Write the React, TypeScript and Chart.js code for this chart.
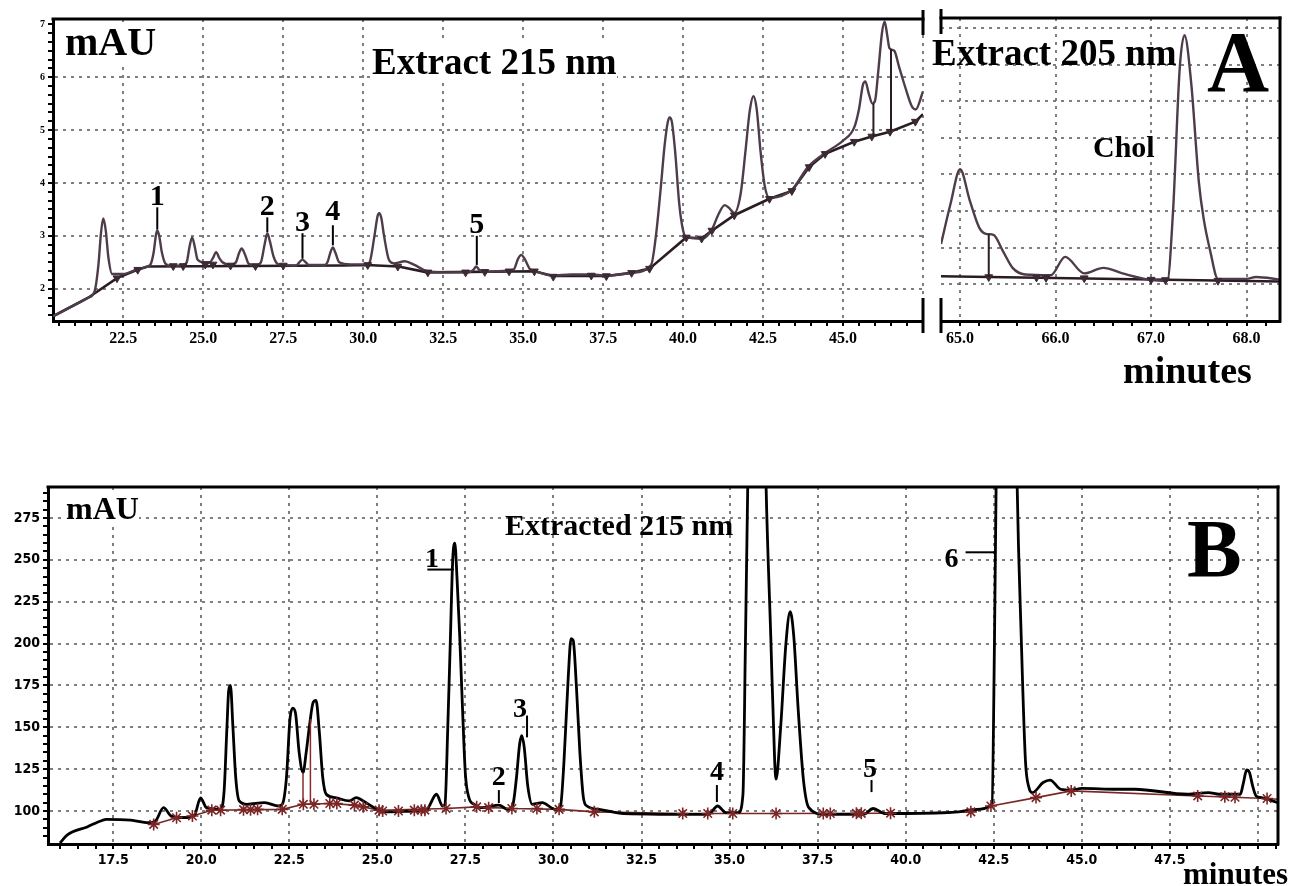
import React, { useEffect, useRef } from "react";
import { Chart, registerables } from "chart.js";

Chart.register(...registerables);

// ---------- Panel A, left part: extract at 215 nm (minutes, mAU) ----------
const A215_SIGNAL: [number, number][] = [
  [20.3, 1.48], [21.0, 1.7], [21.4, 1.83], [21.6, 1.95], [21.72, 2.45], [21.8, 3.05], [21.87, 3.33],
  [21.95, 3.1], [22.03, 2.6], [22.15, 2.28], [22.5, 2.28], [22.9, 2.36], [23.25, 2.42], [23.35, 2.46],
  [23.45, 2.7], [23.52, 3.02], [23.56, 3.1], [23.62, 3.0], [23.7, 2.7], [23.82, 2.47], [24.0, 2.43],
  [24.4, 2.46], [24.48, 2.5], [24.57, 2.8], [24.65, 2.97], [24.73, 2.8], [24.82, 2.55], [25.0, 2.5],
  [25.2, 2.5], [25.3, 2.58], [25.4, 2.69], [25.5, 2.58], [25.6, 2.5], [25.85, 2.45], [26.02, 2.5],
  [26.12, 2.68], [26.2, 2.76], [26.3, 2.65], [26.42, 2.47], [26.65, 2.44], [26.8, 2.5], [26.92, 2.85],
  [27.0, 3.05], [27.08, 2.9], [27.2, 2.6], [27.35, 2.46], [27.9, 2.44], [28.0, 2.5], [28.1, 2.55],
  [28.2, 2.5], [28.3, 2.45], [28.8, 2.45], [28.88, 2.5], [28.98, 2.7], [29.05, 2.78], [29.13, 2.68],
  [29.25, 2.5], [29.6, 2.46], [30.1, 2.46], [30.2, 2.5], [30.35, 3.0], [30.45, 3.38], [30.5, 3.43],
  [30.56, 3.35], [30.65, 3.0], [30.8, 2.55], [30.95, 2.48], [31.3, 2.52], [31.6, 2.45], [32.0, 2.33],
  [32.5, 2.31], [33.3, 2.31], [33.45, 2.36], [33.53, 2.42], [33.62, 2.36], [33.75, 2.32], [34.5, 2.34],
  [34.7, 2.36], [34.85, 2.58], [34.94, 2.64], [35.05, 2.56], [35.2, 2.38], [35.35, 2.34], [35.9, 2.25],
  [36.5, 2.27], [37.1, 2.27], [37.6, 2.25], [38.4, 2.3], [39.0, 2.45], [39.15, 3.0], [39.3, 3.9],
  [39.42, 4.7], [39.52, 5.15], [39.58, 5.24], [39.65, 5.15], [39.75, 4.6], [39.88, 3.6], [40.0, 3.1],
  [40.1, 2.97], [40.6, 2.95], [40.9, 3.12], [41.1, 3.4], [41.3, 3.58], [41.45, 3.52], [41.6, 3.43],
  [41.8, 3.8], [41.95, 4.6], [42.08, 5.35], [42.2, 5.64], [42.3, 5.4], [42.42, 4.6], [42.55, 3.95],
  [42.7, 3.72], [43.4, 3.87], [43.9, 4.3], [44.45, 4.57], [45.0, 4.8], [45.35, 5.05], [45.5, 5.4],
  [45.62, 5.85], [45.7, 5.92], [45.8, 5.7], [45.92, 5.5], [46.0, 5.55], [46.1, 6.1], [46.22, 6.85],
  [46.3, 7.05], [46.38, 6.8], [46.45, 6.55], [46.6, 6.5], [46.75, 6.2], [46.95, 5.8], [47.15, 5.45],
  [47.27, 5.39], [47.5, 5.73],
];
const A215_BASELINE: [number, number][] = [
  [20.3, 1.48], [21.4, 1.83], [22.3, 2.2], [22.9, 2.35], [23.25, 2.42], [29.4, 2.44], [30.1, 2.45],
  [31.1, 2.42], [32.0, 2.31], [35.35, 2.33], [35.94, 2.24], [37.6, 2.24], [38.39, 2.3], [38.95, 2.38],
  [40.1, 2.97], [40.58, 2.95], [40.9, 3.1], [41.6, 3.39], [42.7, 3.7], [43.4, 3.85], [43.94, 4.3],
  [44.44, 4.55], [45.35, 4.78], [45.9, 4.88], [46.47, 4.97], [47.26, 5.16], [47.5, 5.3],
];
const A215_MARKS: [number, number][] = [
  [22.3, 2.2], [22.95, 2.36], [24.06, 2.43], [24.37, 2.43], [25.06, 2.46], [25.3, 2.46], [25.85, 2.44],
  [26.63, 2.43], [27.5, 2.44], [30.14, 2.45], [31.08, 2.42], [32.02, 2.31], [33.2, 2.31], [33.8, 2.32],
  [34.56, 2.33], [35.35, 2.33], [35.94, 2.23], [37.13, 2.25], [37.6, 2.24], [38.39, 2.3], [38.95, 2.38],
  [40.1, 2.97], [40.58, 2.95], [40.9, 3.1], [41.6, 3.39], [42.7, 3.7], [43.4, 3.85], [43.94, 4.3],
  [44.44, 4.55], [45.35, 4.78], [45.9, 4.88], [46.47, 4.97], [47.26, 5.16],
];
const A215_PEAK_LABELS = [
  { text: "1", x: 23.56, y: 3.58 },
  { text: "2", x: 27.0, y: 3.39 },
  { text: "3", x: 28.1, y: 3.1 },
  { text: "4", x: 29.05, y: 3.3 },
  { text: "5", x: 33.55, y: 3.05 },
];
const A215_LEADERS: [number, number, number, number][] = [
  [23.56, 3.54, 23.56, 3.12], [27.0, 3.35, 27.0, 3.07], [28.1, 3.05, 28.1, 2.57],
  [29.05, 3.2, 29.05, 2.82], [33.55, 3.0, 33.55, 2.45],
];
const A215_DROPS: [number, number, number, number][] = [
  [45.95, 4.88, 45.95, 5.5], [46.5, 4.98, 46.5, 6.53],
];

// ---------- Panel A, right part: extract at 205 nm ----------
const A205_SIGNAL: [number, number][] = [
  [64.8, 2.1], [64.9, 3.2], [65.0, 4.14], [65.1, 3.3], [65.2, 2.55], [65.27, 2.38], [65.35, 2.35],
  [65.45, 1.9], [65.55, 1.45], [65.68, 1.27], [65.95, 1.25], [66.1, 1.75], [66.3, 1.3], [66.5, 1.45],
  [66.7, 1.3], [67.0, 1.12], [67.17, 1.1], [67.23, 3.0], [67.3, 6.9], [67.35, 7.8], [67.42, 6.5],
  [67.5, 3.8], [67.55, 2.8], [67.62, 1.9], [67.7, 1.15], [68.0, 1.15], [68.1, 1.2], [68.35, 1.13],
];
const A205_BASELINE: [number, number][] = [[64.8, 1.22], [68.35, 1.08]];
const A205_MARKS: [number, number][] = [
  [65.3, 1.2], [65.8, 1.19], [65.9, 1.18], [66.3, 1.17], [67.0, 1.13], [67.15, 1.12], [67.7, 1.1],
];
const A205_DROPS: [number, number, number, number][] = [[65.3, 1.2, 65.3, 2.37]];

// ---------- Panel B: extracted at 215 nm ----------
const B_SIGNAL: [number, number][] = [
  [15.99, 80.9], [16.2, 85.7], [16.76, 90.5], [17.2, 94.5], [17.3, 95], [18.0, 94.5], [18.5, 93],
  [18.7, 94], [18.93, 102], [19.15, 97], [19.5, 96], [19.8, 97], [19.98, 107.8], [20.15, 102],
  [20.55, 101], [20.65, 112], [20.73, 150], [20.78, 172], [20.83, 175], [20.9, 150], [20.98, 120],
  [21.08, 106], [21.3, 104], [21.8, 105], [22.2, 103], [22.3, 104], [22.42, 120], [22.52, 155],
  [22.6, 161.5], [22.68, 158], [22.78, 135], [22.89, 123], [22.98, 135], [23.08, 152], [23.18, 165],
  [23.26, 166], [23.35, 148], [23.45, 120], [23.55, 110], [23.8, 108], [24.2, 106], [24.4, 108],
  [24.6, 106], [25.0, 101], [25.3, 99.5], [26.0, 100], [26.4, 101], [26.68, 110], [26.85, 103],
  [26.92, 104], [27.0, 150], [27.07, 200], [27.14, 250], [27.2, 260], [27.26, 240], [27.34, 204],
  [27.42, 160], [27.5, 122], [27.6, 108], [27.75, 104], [28.0, 102], [28.45, 103.5], [28.7, 101],
  [28.85, 104], [28.95, 120], [29.04, 140], [29.1, 145], [29.17, 138], [29.27, 115], [29.4, 104],
  [29.68, 105], [30.05, 101], [30.2, 103], [30.3, 130], [30.42, 180], [30.5, 203], [30.56, 202],
  [30.65, 175], [30.75, 135], [30.85, 108], [30.95, 103], [31.3, 101], [32.0, 98.5], [34.4, 98],
  [34.66, 103], [34.9, 99], [35.25, 99], [35.38, 110], [35.45, 200], [35.52, 300], [35.6, 400],
  [35.95, 400], [36.03, 300], [36.17, 204], [36.28, 130], [36.32, 119], [36.45, 150], [36.6, 200],
  [36.72, 219], [36.82, 205], [36.95, 160], [37.1, 118], [37.25, 102], [37.7, 98], [38.8, 98],
  [39.08, 101.5], [39.4, 98.5], [40.0, 98.5], [41.5, 99.5], [42.0, 101], [42.45, 104], [42.52, 200],
  [42.57, 300], [42.65, 400], [43.1, 400], [43.16, 300], [43.28, 204], [43.4, 130], [43.5, 114],
  [43.6, 111], [43.9, 117], [44.1, 118.5], [44.4, 113], [44.7, 112.5], [45.0, 113.5], [46.0, 113],
  [46.5, 113], [48.0, 110], [48.6, 111], [48.9, 110], [49.5, 110], [49.58, 116], [49.68, 124.5],
  [49.76, 123], [49.85, 115], [49.95, 109], [50.1, 108], [50.57, 105],
];
const B_BASELINE: [number, number][] = [
  [18.65, 92], [19.3, 96], [19.75, 97], [20.3, 100.5], [22.3, 101], [22.9, 104], [23.65, 104.5],
  [24.35, 103.5], [25.05, 100.5], [26.95, 101.5], [27.82, 102.5], [28.82, 101.5], [30.16, 101],
  [31.16, 99.5], [33.67, 98.5], [36.32, 98.5], [39.57, 98.7], [41.85, 99.5], [42.42, 103],
  [43.7, 108], [44.7, 112], [48.29, 109], [50.26, 107.5], [50.57, 107],
];
const B_MARKS: [number, number][] = [
  [18.65, 92], [19.3, 96], [19.75, 97], [20.3, 100.5], [20.55, 100.5], [21.2, 100.8], [21.4, 100.8],
  [21.6, 101], [22.3, 101], [22.9, 104], [23.2, 104], [23.65, 104.5], [23.85, 104.5], [24.35, 103.5],
  [24.6, 102.5], [25.05, 100.5], [25.15, 100], [25.6, 100], [26.05, 100.5], [26.25, 100.5],
  [26.35, 100.5], [26.95, 101.5], [27.82, 102.5], [28.16, 102], [28.82, 101.5], [29.53, 101.5],
  [30.16, 101], [31.16, 99.5], [33.67, 98.5], [34.38, 98.5], [35.09, 98.5], [36.32, 98.5],
  [37.66, 98.5], [37.86, 98.5], [38.6, 98.6], [38.74, 98.6], [39.57, 98.7], [41.85, 99.5],
  [42.42, 103], [43.7, 108], [44.7, 112], [48.29, 109], [49.06, 108.5], [49.35, 108.2], [50.26, 107.5],
];
const B_PEAK_LABELS = [
  { text: "1", x: 26.55, y: 246 },
  { text: "6", x: 41.3, y: 245.6 },
  { text: "3", x: 29.05, y: 156 },
  { text: "2", x: 28.45, y: 115.5 },
  { text: "4", x: 34.64, y: 118.5 },
  { text: "5", x: 38.99, y: 120.3 },
];
const B_LEADERS: [number, number, number, number][] = [
  [26.42, 244.2, 27.17, 244.2], [41.7, 254.5, 42.56, 254.5], [29.25, 157, 29.25, 144],
  [28.45, 112.5, 28.45, 104.8], [34.64, 115.5, 34.64, 105.4], [39.03, 118.5, 39.03, 111.3],
];
const B_DROPS: [number, number, number, number][] = [
  [22.89, 104, 22.89, 123], [23.1, 104, 23.1, 155],
];

// ---------- Axis ticks ----------
const A215_X_LABELS = [22.5, 25.0, 27.5, 30.0, 32.5, 35.0, 37.5, 40.0, 42.5, 45.0];
const A215_X_GRID = [22.5, 25.0, 27.5, 30.0, 32.5, 35.0, 37.5, 40.0, 42.5, 45.0, 47.5];
const A215_Y_LABELS = [2, 3, 4, 5, 6, 7];
const A215_Y_GRID = [2, 3, 4, 5, 6];
const A205_X_LABELS = [65.0, 66.0, 67.0, 68.0];
const A205_Y_GRID = [1, 2, 3, 4, 5, 6, 7, 8];
const B_X_LABELS = [17.5, 20.0, 22.5, 25.0, 27.5, 30.0, 32.5, 35.0, 37.5, 40.0, 42.5, 45.0, 47.5];
const B_X_GRID = [17.5, 20.0, 22.5, 25.0, 27.5, 30.0, 32.5, 35.0, 37.5, 40.0, 42.5, 45.0, 47.5, 50.0];
const B_Y_LABELS = [100, 125, 150, 175, 200, 225, 250, 275];

const SERIF = "'Liberation Serif', 'Times New Roman', serif";
const NARROW = "'Liberation Sans Narrow', 'DejaVu Sans Condensed', 'Liberation Sans', sans-serif";
const GRID = "rgba(95,95,95,0.8)";

function steps(from: number, to: number, step: number): number[] {
  const out: number[] = [];
  const n = Math.round((to - from) / step);
  for (let k = 0; k <= n; k++) out.push(Math.round((from + k * step) * 1000) / 1000);
  return out;
}
function near(list: number[], v: number) {
  return list.some((u) => Math.abs(u - v) < 1e-6);
}
const pts = (arr: [number, number][]) => arr.map(([x, y]) => ({ x, y }));

type AxisOpt = {
  min: number; max: number; ticks: number[]; labels: number[]; grid: number[];
  font: any; size: number; fmt: (v: number) => string; showTicks?: boolean; showBorder?: boolean;
};

function axis(o: AxisOpt, horizontal: boolean) {
  return {
    type: "linear",
    min: o.min,
    max: o.max,
    afterBuildTicks: (s: any) => { s.ticks = o.ticks.map((v) => ({ value: v })); },
    afterFit: (s: any) => { if (horizontal) s.height = o.size; else s.width = o.size; },
    ticks: {
      display: o.showTicks !== false,
      autoSkip: false, maxRotation: 0, minRotation: 0, padding: 3, color: "#000", font: o.font,
      callback: (v: any) => (near(o.labels, Number(v)) ? o.fmt(Number(v)) : ""),
    },
    grid: {
      color: (c: any) => (c.tick && near(o.grid, c.tick.value) ? GRID : "rgba(0,0,0,0)"),
      lineWidth: 2,
      drawTicks: o.showTicks !== false,
      tickColor: "#000",
      tickLength: 5,
      tickWidth: 2,
    },
    border: { display: o.showBorder !== false, color: "#000", width: 3, dash: [3, 5] },
  };
}

function framePlugin(o: {
  top?: boolean; right?: boolean; breaks?: ("left" | "right")[];
  drops?: [number, number, number, number][]; dropColor?: string; dropWidth?: number;
  leaders?: [number, number, number, number][];
  labels?: { text: string; x: number; y: number }[]; labelSize?: number;
}) {
  return {
    id: "frame",
    afterDraw(chart: any) {
      const { ctx, chartArea: a } = chart;
      const xs = chart.scales.x;
      const ys = chart.scales.y;
      const seg = (x1: number, y1: number, x2: number, y2: number, color: string, w: number) => {
        ctx.strokeStyle = color; ctx.lineWidth = w; ctx.setLineDash([]);
        ctx.beginPath(); ctx.moveTo(x1, y1); ctx.lineTo(x2, y2); ctx.stroke();
      };
      ctx.save();
      if (o.top) seg(a.left - 1.5, a.top, a.right + 1.5, a.top, "#000", 3);
      if (o.right) seg(a.right, a.top - 1.5, a.right, a.bottom + 1.5, "#000", 3);
      (o.breaks || []).forEach((side) => {
        const x = side === "left" ? a.left : a.right;
        seg(x, a.top - 9, x, a.top + 16, "#000", 3);
        seg(x, a.bottom - 23, x, a.bottom + 12, "#000", 3);
      });
      (o.drops || []).forEach(([x1, y1, x2, y2]) =>
        seg(xs.getPixelForValue(x1), ys.getPixelForValue(y1), xs.getPixelForValue(x2), ys.getPixelForValue(y2),
          o.dropColor || "#000", o.dropWidth || 2));
      (o.leaders || []).forEach(([x1, y1, x2, y2]) =>
        seg(xs.getPixelForValue(x1), ys.getPixelForValue(y1), xs.getPixelForValue(x2), ys.getPixelForValue(y2), "#000", 2));
      ctx.fillStyle = "#000";
      ctx.font = `bold ${o.labelSize || 28}px ${SERIF}`;
      ctx.textAlign = "center";
      ctx.textBaseline = "alphabetic";
      (o.labels || []).forEach((l) => ctx.fillText(l.text, xs.getPixelForValue(l.x), ys.getPixelForValue(l.y)));
      ctx.restore();
    },
  };
}

function datasets(signal: [number, number][], base: [number, number][], marks: [number, number][], kind: "A" | "B") {
  const isA = kind === "A";
  return [
    {
      data: pts(marks), showLine: false, order: 0,
      pointStyle: isA ? "triangle" : "star", rotation: isA ? 180 : 0,
      pointRadius: isA ? 4.5 : 6, pointBorderWidth: isA ? 1 : 1.6,
      pointBackgroundColor: isA ? "#3b2a33" : "#7a2626", pointBorderColor: isA ? "#3b2a33" : "#7a2626",
    },
    {
      data: pts(signal), order: 1, borderColor: isA ? "#4e3c4b" : "#000", borderWidth: isA ? 2.4 : 2.8,
      pointRadius: 0, cubicInterpolationMode: "monotone", fill: false,
    },
    {
      data: pts(base), order: 2, borderColor: isA ? "#2a1c22" : "#7a2626", borderWidth: isA ? 2.6 : 1.6,
      pointRadius: 0, tension: 0, fill: false,
    },
  ];
}

function baseOptions(padding: any, x: any, y: any) {
  return {
    responsive: false,
    animation: false,
    events: [],
    layout: { padding },
    plugins: { legend: { display: false }, tooltip: { enabled: false } },
    scales: { x, y },
  };
}

const fontA = { family: SERIF, weight: "bold", size: 16 };
const fontAy = { family: SERIF, weight: "bold", size: 10 };
const fontB = { family: NARROW, weight: "bold", size: 14 };

function configA215() {
  return {
    type: "line",
    data: { datasets: datasets(A215_SIGNAL, A215_BASELINE, A215_MARKS, "A") },
    options: baseOptions(
      { left: 0, top: 19, right: 12, bottom: 0 },
      axis({ min: 20.3, max: 47.5, ticks: steps(20.5, 47.5, 0.5), labels: A215_X_LABELS, grid: A215_X_GRID,
        font: fontA, size: 39, fmt: (v) => v.toFixed(1) }, true),
      axis({ min: 1.39, max: 7.1, ticks: steps(1.5, 7.0, 1 / 6), labels: A215_Y_LABELS, grid: A215_Y_GRID,
        font: fontAy, size: 53, fmt: (v) => String(Math.round(v)) }, false),
    ),
    plugins: [framePlugin({ top: true, breaks: ["right"], drops: A215_DROPS, dropColor: "#2a1c22", dropWidth: 2,
      leaders: A215_LEADERS, labels: A215_PEAK_LABELS, labelSize: 30 })],
  };
}

function configA205() {
  return {
    type: "line",
    data: { datasets: datasets(A205_SIGNAL, A205_BASELINE, A205_MARKS, "A") },
    options: baseOptions(
      { left: 0, top: 18, right: 9, bottom: 0 },
      axis({ min: 64.8, max: 68.35, ticks: steps(64.8, 68.2, 0.2), labels: A205_X_LABELS, grid: A205_X_LABELS,
        font: fontA, size: 39, fmt: (v) => v.toFixed(1) }, true),
      axis({ min: 0, max: 8.27, ticks: A205_Y_GRID, labels: [], grid: A205_Y_GRID,
        font: fontAy, size: 11, fmt: () => "", showTicks: false, showBorder: false }, false),
    ),
    plugins: [framePlugin({ top: true, right: true, breaks: ["left"], drops: A205_DROPS, dropColor: "#2a1c22", dropWidth: 2 })],
  };
}

function configB() {
  return {
    type: "line",
    data: { datasets: datasets(B_SIGNAL, B_BASELINE, B_MARKS, "B") },
    options: baseOptions(
      { left: 0, top: 17, right: 11, bottom: 0 },
      axis({ min: 15.65, max: 50.57, ticks: steps(16.0, 50.5, 0.5), labels: B_X_LABELS, grid: B_X_GRID,
        font: fontB, size: 42, fmt: (v) => v.toFixed(1) }, true),
      axis({ min: 80.3, max: 293.5, ticks: steps(85, 290, 5), labels: B_Y_LABELS, grid: B_Y_LABELS,
        font: fontB, size: 48, fmt: (v) => String(Math.round(v)) }, false),
    ),
    plugins: [framePlugin({ top: true, right: true, drops: B_DROPS, dropColor: "#8a2a2a", dropWidth: 1.5,
      leaders: B_LEADERS, labels: B_PEAK_LABELS, labelSize: 28 })],
  };
}

function ChartBox(props: { left: number; top: number; width: number; height: number; make: () => any }) {
  const ref = useRef<HTMLCanvasElement | null>(null);
  useEffect(() => {
    const chart = new Chart(ref.current as HTMLCanvasElement, props.make());
    return () => chart.destroy();
  }, []);
  return (
    <div style={{ position: "absolute", left: props.left, top: props.top, width: props.width, height: props.height }}>
      <canvas ref={ref} width={props.width} height={props.height} style={{ width: props.width, height: props.height, display: "block" }} />
    </div>
  );
}

function Txt(props: { text: string; left: number; baseline: number; size: number; bg?: boolean }) {
  return (
    <div
      style={{
        position: "absolute",
        left: props.left,
        top: props.baseline - 0.8375 * props.size,
        fontFamily: SERIF,
        fontWeight: "bold",
        fontSize: props.size,
        lineHeight: `${props.size}px`,
        whiteSpace: "nowrap",
        color: "#000",
        background: props.bg ? "#fff" : "transparent",
        zIndex: 2,
      }}
    >
      {props.text}
    </div>
  );
}

export default function App() {
  return (
    <div style={{ position: "absolute", left: 0, top: 0, width: 1289, height: 886, background: "#fff", overflow: "hidden" }}>
      <ChartBox left={0} top={0} width={935} height={360} make={configA215} />
      <ChartBox left={930} top={0} width={359} height={360} make={configA205} />
      <ChartBox left={0} top={470} width={1289} height={416} make={configB} />

      <Txt text="mAU" left={65} baseline={55} size={40} bg />
      <Txt text="Extract 215 nm" left={372} baseline={74} size={37} bg />
      <Txt text="Extract 205 nm" left={932} baseline={65} size={37} />
      <Txt text="A" left={1207} baseline={91} size={86} />
      <Txt text="Chol" left={1093} baseline={157} size={30} />
      <Txt text="minutes" left={1123} baseline={383} size={38} />

      <Txt text="mAU" left={66} baseline={519} size={32} bg />
      <Txt text="Extracted 215 nm" left={505} baseline={535} size={30} />
      <Txt text="B" left={1187} baseline={577} size={82} />
      <Txt text="minutes" left={1183} baseline={884} size={31} />
    </div>
  );
}
